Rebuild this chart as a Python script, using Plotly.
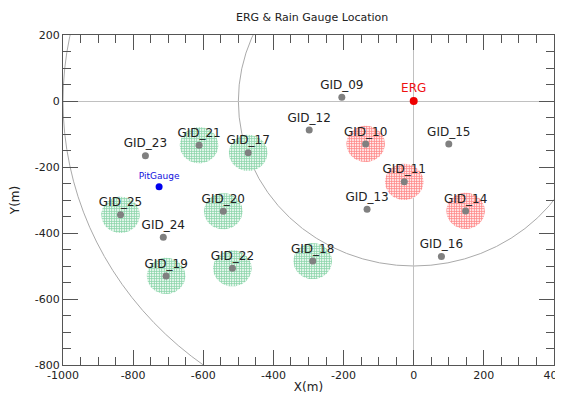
import numpy as np
import plotly.graph_objects as go

# ---- data ----
gauge_names = ["GID_09", "GID_10", "GID_11", "GID_12", "GID_13", "GID_14", "GID_15", "GID_16",
               "GID_17", "GID_18", "GID_19", "GID_20", "GID_21", "GID_22", "GID_23", "GID_24", "GID_25"]
gauge_x = [-205, -137, -27, -298, -133, 148, 100, 79,
           -472, -288, -706, -543, -612, -517, -765, -714, -836]
gauge_y = [11, -130, -245, -88, -328, -333, -130, -471,
           -157, -485, -530, -334, -134, -507, -166, -413, -345]

green_circles = ["GID_17", "GID_18", "GID_19", "GID_20", "GID_21", "GID_22", "GID_25"]
red_circles = ["GID_10", "GID_11", "GID_14"]
circle_radius = 55

erg_x, erg_y = [0], [0]
pit_x, pit_y = [-726], [-260]
ring_radii = [500, 1000]

x_ticks = [-1000, -800, -600, -400, -200, 0, 200, 400]
x_ticktext = ["-1000", "-800", "-600", "-400", "-200", "0", "200", "400"]
y_ticks = [-800, -600, -400, -200, 0, 200]
y_ticktext = ["-800", "-600", "-400", "-200", "0", "200"]

FONT = "DejaVu Sans"
AXC = "#555555"

fig = go.Figure()
theta = np.linspace(0, 2 * np.pi, 91)

def add_zone(name, color):
    i = gauge_names.index(name)
    cx, cy = gauge_x[i], gauge_y[i]
    fig.add_trace(go.Scatter(
        x=cx + circle_radius * np.cos(theta),
        y=cy + circle_radius * np.sin(theta),
        mode="lines", fill="toself", line=dict(width=0, color=color),
        fillcolor="rgba(255,255,255,0)",
        fillpattern=dict(shape="+", fgcolor=color, bgcolor="white", size=2.5, solidity=0.65),
        hoverinfo="skip", showlegend=False))

for n in green_circles:
    add_zone(n, "#10a850")
for n in red_circles:
    add_zone(n, "#ff0a0a")

fig.add_trace(go.Scatter(
    x=gauge_x, y=gauge_y, mode="markers+text", text=gauge_names,
    textposition="top center", textfont=dict(family=FONT, size=12, color="#222222"),
    marker=dict(size=7, color="#808080"), showlegend=False))

fig.add_trace(go.Scatter(
    x=erg_x, y=erg_y, mode="markers+text", text=["ERG"],
    textposition="top center", textfont=dict(family=FONT, size=12, color="#ee1111"),
    marker=dict(size=8, color="#ee0000"), showlegend=False))

fig.add_trace(go.Scatter(
    x=pit_x, y=pit_y, mode="markers+text", text=["PitGauge"],
    textposition="top center", textfont=dict(family=FONT, size=9, color="#1111dd"),
    marker=dict(size=7, color="#0000ee"), showlegend=False))

for r in ring_radii:
    fig.add_shape(type="circle", xref="x", yref="y", x0=-r, y0=-r, x1=r, y1=r,
                  line=dict(color="#aaaaaa", width=1), layer="below")

axis_common = dict(
    showline=True, linecolor=AXC, linewidth=1, mirror="ticks",
    ticks="inside", ticklen=15, tickwidth=1, tickcolor=AXC,
    showgrid=False, zeroline=True, zerolinecolor="#c0c0c0", zerolinewidth=1,
    tickfont=dict(family=FONT, size=11, color="#222222"),
    ticklabeloverflow="allow",
    automargin=False,
)

fig.update_xaxes(range=[-1000, 400], tickmode="array", tickvals=x_ticks, ticktext=x_ticktext,
                 minor=dict(tick0=0, dtick=50, ticks="inside", ticklen=8, tickcolor=AXC, showgrid=False),
                 title=dict(text="X(m)", font=dict(family=FONT, size=12, color="#222222"), standoff=7),
                 **axis_common)
fig.update_yaxes(range=[-800, 200], tickmode="array", tickvals=y_ticks, ticktext=y_ticktext,
                 minor=dict(tick0=0, dtick=50, ticks="inside", ticklen=8, tickcolor=AXC, showgrid=False),
                 title=dict(text="Y(m)", font=dict(family=FONT, size=12, color="#222222"), standoff=14),
                 **axis_common)

# page body has an 8px margin; size the figure so the plot area lands where the reference has it
fig.update_layout(
    width=555, height=386,
    margin=dict(l=55, r=9, t=27, b=29),
    paper_bgcolor="white", plot_bgcolor="white",
    title=dict(text="ERG & Rain Gauge Location", x=0.548, xanchor="center",
               y=1 - 9 / 386, yanchor="middle", yref="container",
               font=dict(family=FONT, size=11, color="#222222")),
    showlegend=False,
)

fig.write_html("out.html")
